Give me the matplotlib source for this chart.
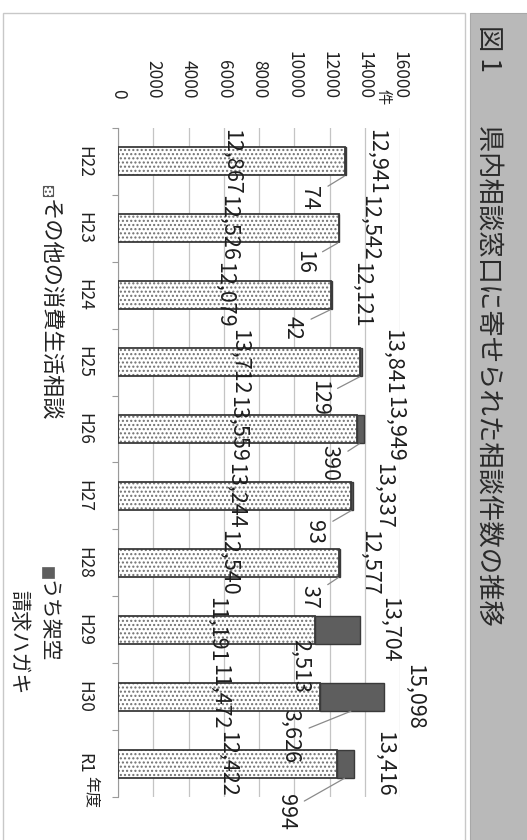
import matplotlib
matplotlib.use("Agg")
import matplotlib.pyplot as plt
from matplotlib.patches import Rectangle

plt.rcParams['font.family'] = ['Noto Sans CJK JP', 'DejaVu Sans']

# data (page is scanned sideways, so everything is drawn rotated -90)
years = ['H22', 'H23', 'H24', 'H25', 'H26', 'H27', 'H28', 'H29', 'H30', 'R1']
other = [12867, 12526, 12079, 13712, 13559, 13244, 12540, 11191, 11472, 12422]
kakuu = [74, 16, 42, 129, 390, 93, 37, 2513, 3626, 994]
total = [o + k for o, k in zip(other, kakuu)]
value_ticks = list(range(0, 16001, 2000))

title = '図 1\u3000\u3000県内相談窓口に寄せられた相談件数の推移'
legend_other = 'その他の消費生活相談'
legend_kakuu = ['うち架空', '請求ハガキ']

# label nudges for the small series (pixels, right / down from bar edge)
kakuu_nudge = [(-36, 22), (-35, 20), (-39, 19), (-42, 22), (-31, 20),
               (-38, 22), (-30, 20), (-37, 22), (-62, 25), (-60, 34)]
leader = [True, True, True, True, True, True, True, False, True, True]

W, H = 527, 840
def fx(px):
    return px / W
def fy(py):
    return 1 - py / H

fig = plt.figure(figsize=(W / 100, H / 100), dpi=100)
fig.patch.set_facecolor('white')

# frame and title band
fig.patches.append(Rectangle((fx(3), -0.01), fx(465) - fx(3), fy(13) + 0.01,
                             transform=fig.transFigure, fill=False,
                             edgecolor='#c8c8c8', lw=1.0, zorder=0))
fig.patches.append(Rectangle((fx(470), -0.01), 1 - fx(470) + 0.01, fy(13) + 0.01,
                             transform=fig.transFigure, facecolor='#b9b9b9',
                             edgecolor='#a8a8a8', lw=0.8, zorder=0))
fig.text(fx(489), fy(25), title, rotation=-90, ha='center', va='top',
         fontsize=19, color='#2a2a2a')

ax = fig.add_axes([fx(118), fy(797), fx(400) - fx(118), (797 - 128) / H])
ax.set_facecolor('none')

pos = list(range(len(years)))
bar_h = 0.42
ax.barh(pos, other, height=bar_h, color='white', hatch='....',
        edgecolor='#707070', linewidth=0, zorder=2)
ax.barh(pos, other, height=bar_h, fill=False, edgecolor='#3a3a3a',
        linewidth=1.3, zorder=3)
ax.barh(pos, kakuu, left=other, height=bar_h, color='#5e5e5e',
        edgecolor='#3a3a3a', linewidth=1.0, zorder=3)

ax.set_xlim(0, 16000)
ax.set_ylim(len(years) - 0.5, -0.5)

ax.xaxis.tick_top()
ax.set_xticks(value_ticks)
ax.set_xticklabels([str(v) for v in value_ticks], rotation=-90, fontsize=12.5,
                   color='#222222')
ax.tick_params(axis='x', length=0, pad=21)
ax.grid(axis='x', color='#c4c4c4', lw=0.9, zorder=0)

ax.set_yticks(pos)
ax.set_yticklabels(years, rotation=-90, va='center', fontsize=12.5,
                   color='#222222')
ax.set_yticks([p - 0.5 for p in range(len(years) + 1)], minor=True)
ax.tick_params(axis='y', which='major', length=0, pad=18)
ax.tick_params(axis='y', which='minor', length=4, color='#9a9a9a', width=0.8)

for s in ['top', 'right', 'bottom']:
    ax.spines[s].set_visible(False)
ax.spines['left'].set_color('#9a9a9a')

lab = dict(rotation=-90, ha='center', va='center', fontsize=15.5,
           color='#1e1e1e', zorder=5)
for i in pos:
    ax.annotate(f'{total[i]:,}', xy=(total[i], i), xytext=(30, 0),
                textcoords='offset pixels', annotation_clip=False, **lab)
    ax.text(other[i] / 2, i, f'{other[i]:,}', **lab)
    dx, dy = kakuu_nudge[i]
    arrow = dict(arrowstyle='-', color='#8a8a8a', lw=0.9, shrinkA=4, shrinkB=1) if leader[i] else None
    ax.annotate(f'{kakuu[i]:,}', xy=(other[i] + kakuu[i] / 2, i + bar_h / 2),
                xytext=(dx, -dy), textcoords='offset pixels',
                arrowprops=arrow, annotation_clip=False, **lab)

# axis captions
fig.text(fx(383), fy(97), '件', rotation=-90, ha='center', va='center',
         fontsize=11, color='#222222')
fig.text(fx(91), fy(792), '年度', rotation=-90, ha='center', va='center',
         fontsize=11.5, color='#222222')

# legend drawn by hand (rotated)
fig.patches.append(Rectangle((fx(43), fy(196)), 10 / W, 10 / H,
                             transform=fig.transFigure, facecolor='white',
                             hatch='....', edgecolor='#555555', lw=0.8))
fig.text(fx(48), fy(199), legend_other, rotation=-90, ha='center', va='top',
         fontsize=16, color='#222222')
fig.patches.append(Rectangle((fx(42), fy(578)), 12 / W, 11 / H,
                             transform=fig.transFigure, facecolor='#5e5e5e',
                             edgecolor='#5e5e5e', lw=0.5))
fig.text(fx(47), fy(580), legend_kakuu[0], rotation=-90, ha='center', va='top',
         fontsize=15, color='#222222')
fig.text(fx(18), fy(590), legend_kakuu[1], rotation=-90, ha='center', va='top',
         fontsize=15, color='#222222')

fig.savefig('out.png', dpi=100)
